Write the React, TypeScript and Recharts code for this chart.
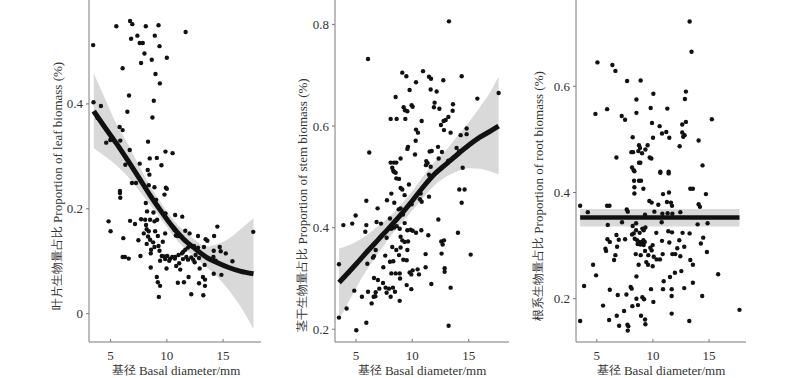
import React from 'react';
import { ComposedChart, XAxis, YAxis, Scatter, Line, Area } from 'recharts';

const FONT = "'Liberation Serif', 'Times New Roman', Times, 'DejaVu Serif', serif";

const xTicks = [5, 10, 15];
const leafYTicks = [0, 0.2, 0.4];
const stemYTicks = [0.2, 0.4, 0.6, 0.8];
const rootYTicks = [0.2, 0.4, 0.6];

const xTitle = ['基径', 'Basal diameter/mm'];
const leafTitle = ['叶片生物量占比', 'Proportion of leaf biomass (%)'];
const stemTitle = ['茎干生物量占比', 'Proportion of stem biomass (%)'];
const rootTitle = ['根系生物量占比', 'Proportion of root biomass (%)'];

const leafPoints: number[][] = [
  [3.45,0.512],[5.51,0.548],[6.73,0.558],[6.93,0.552],[8.13,0.548],[9.26,0.55],[11.67,0.537],[6.82,0.524],[7.38,0.53],[8.93,0.53],
  [7.59,0.516],[7.86,0.516],[9.35,0.51],[8.01,0.496],[10.0,0.488],[8.66,0.484],[7.71,0.478],[6.07,0.468],[8.99,0.457],[9.38,0.439],
  [6.64,0.416],[8.84,0.406],[3.48,0.403],[4.14,0.396],[6.49,0.385],[8.72,0.374],[5.8,0.356],[6.07,0.35],[8.33,0.328],[4.61,0.326],
  [4.97,0.331],[5.86,0.33],[6.7,0.312],[9.88,0.309],[10.51,0.306],[8.48,0.296],[9.11,0.297],[6.31,0.284],[7.59,0.286],[9.52,0.283],
  [8.3,0.274],[3.84,0.373],
  [8.45,0.265],[6.9,0.249],[7.26,0.249],[5.83,0.234],[5.83,0.23],[5.86,0.221],[8.39,0.245],[8.9,0.241],[9.91,0.24],[10.0,0.238],
  [9.79,0.227],[9.05,0.217],[8.13,0.211],[9.2,0.205],[8.24,0.195],[8.81,0.193],[9.88,0.191],[10.74,0.188],[11.37,0.185],[4.82,0.176],
  [6.73,0.177],[7.17,0.171],[7.71,0.18],[8.07,0.179],[8.51,0.179],[8.9,0.176],[9.14,0.179],[8.15,0.169],[8.21,0.161],[8.39,0.157],
  [8.96,0.157],[5.0,0.157],[6.13,0.144],[7.47,0.14],[7.95,0.153],[8.33,0.147],[8.51,0.141],[8.78,0.136],[9.2,0.148],[9.64,0.137],
  [9.85,0.153],[10.68,0.16],[10.8,0.149],[10.98,0.148],[11.64,0.158],[12.02,0.153],[12.77,0.148],[13.45,0.142],[13.6,0.139],[14.2,0.148],
  [14.49,0.166],[8.21,0.133],[8.6,0.122],[8.9,0.127],[9.26,0.129],[9.35,0.12],[9.55,0.11],[9.76,0.109],[10.03,0.11],[10.3,0.105],
  [10.48,0.108],[10.74,0.108],[11.04,0.112],[11.34,0.115],[11.46,0.118],[11.64,0.122],[11.88,0.126],[12.41,0.129],[12.77,0.126],[6.07,0.108],
  [6.28,0.108],[6.61,0.105],[7.65,0.11],[8.57,0.115],[9.4,0.101],[9.85,0.104],[10.21,0.101],[10.71,0.105],[10.83,0.091],[11.1,0.096],
  [11.43,0.104],[11.73,0.108],[11.88,0.103],[12.35,0.103],[12.47,0.098],[12.86,0.106],[12.92,0.086],[13.36,0.093],[14.14,0.108],[14.35,0.101],
  [14.79,0.119],[15.24,0.115],[15.83,0.1],[14.7,0.127],[14.17,0.12],[13.3,0.127],[12.56,0.112],[12.17,0.107],[8.57,0.088],[9.97,0.086],
  [11.19,0.084],[9.11,0.07],[9.2,0.06],[9.4,0.053],[9.29,0.032],[10.98,0.059],[11.52,0.06],[11.93,0.07],[12.17,0.037],[12.86,0.058],
  [13.21,0.07],[13.39,0.065],[13.39,0.053],[13.24,0.035],[14.85,0.074],[14.17,0.076],[17.68,0.156]
];

const stemPoints: number[][] = [
  [13.25,0.806],[6.07,0.732],[9.11,0.705],[9.47,0.698],[10.95,0.708],[11.48,0.697],[11.66,0.693],[12.75,0.69],[14.38,0.698],[10.33,0.686],
  [9.76,0.671],[11.63,0.672],[12.16,0.668],[8.52,0.657],[15.77,0.654],[17.66,0.665],[9.23,0.637],[9.35,0.631],[9.56,0.629],[9.94,0.641],
  [10.03,0.638],[11.98,0.646],[11.92,0.637],[12.4,0.634],[13.61,0.643],[13.58,0.63],[8.08,0.614],[8.61,0.614],[9.38,0.614],[10.83,0.61],
  [13.2,0.618],[12.96,0.612],[12.78,0.61],[12.54,0.602],[12.81,0.592],[10.33,0.593],[10.5,0.587],[13.4,0.587],[14.29,0.582],[14.82,0.595],
  [14.82,0.584],[10.3,0.571],[9.62,0.559],[9.56,0.555],[11.54,0.55],[11.72,0.551],[12.28,0.559],[12.63,0.549],[13.93,0.557],[14.14,0.55],
  [10.24,0.544],[8.96,0.536],[6.18,0.548],[8.08,0.528],[8.37,0.528],[8.58,0.528],[8.22,0.518],[11.24,0.531],[11.36,0.527],[11.21,0.523],
  [11.63,0.52],[12.34,0.536],[13.2,0.532],[14.47,0.518],[8.31,0.512],
  [8.37,0.51],[8.52,0.508],[8.58,0.497],[8.82,0.496],[11.48,0.504],[8.14,0.467],[8.96,0.478],[9.11,0.475],[9.7,0.485],[9.32,0.464],
  [8.4,0.449],[5.92,0.453],[7.75,0.454],[6.92,0.438],[8.96,0.438],[8.79,0.436],[9.17,0.426],[9.94,0.446],[10.68,0.456],[10.74,0.467],
  [10.83,0.451],[11.48,0.461],[14.17,0.475],[14.64,0.475],[14.38,0.449],[4.97,0.424],[3.88,0.405],[4.67,0.408],[5.92,0.405],[5.83,0.392],
  [6.83,0.411],[7.22,0.408],[8.02,0.418],[7.72,0.38],[8.14,0.398],[8.37,0.4],[8.61,0.403],[8.88,0.398],[9.32,0.409],[9.56,0.395],
  [9.85,0.396],[10.03,0.394],[10.33,0.39],[10.8,0.395],[11.42,0.385],[12.31,0.416],[14.05,0.39],[8.96,0.382],[9.11,0.375],[9.32,0.372],
  [9.62,0.373],[8.22,0.362],[8.58,0.356],[8.96,0.361],[9.56,0.356],[8.82,0.346],[7.6,0.345],[8.02,0.333],[8.31,0.334],[9.2,0.337],
  [9.5,0.336],[11.18,0.348],[12.6,0.349],[12.57,0.373],[12.81,0.375],[12.69,0.367],[15.18,0.347],[6.01,0.329],[6.75,0.356],[6.6,0.344],
  [6.51,0.341],[7.43,0.322],[8.14,0.31],[8.52,0.31],[8.88,0.31],[8.91,0.3],[10.03,0.316],[9.91,0.308],[9.76,0.312],[10.47,0.318],
  [10.59,0.308],[11.18,0.322],[12.87,0.32],[12.87,0.313],[3.49,0.328],[6.6,0.301],[6.95,0.297],[7.4,0.291],[7.07,0.28],[9.5,0.287],
  [9.91,0.279],[11.69,0.289],[13.4,0.282],[4.85,0.276],[5.53,0.264],[6.07,0.274],[6.75,0.273],[6.72,0.265],[6.57,0.264],[7.63,0.282],
  [7.93,0.28],[8.28,0.282],[8.46,0.274],[8.08,0.264],[8.88,0.256],[6.39,0.251],[4.17,0.241],[3.49,0.223],[5.92,0.213],[5.03,0.198],
  [13.22,0.207],[7.72,0.272]
];

const rootPoints: number[][] = [
  [13.27,0.722],[13.44,0.665],[5.06,0.645],[6.39,0.64],[6.66,0.629],[7.7,0.61],[8.91,0.611],[12.94,0.59],[10.04,0.586],[12.85,0.576],
  [8.53,0.575],[5.92,0.557],[9.8,0.559],[11.28,0.558],[4.88,0.548],[8.53,0.55],[7.22,0.544],[7.52,0.537],[15.25,0.538],[9.92,0.531],
  [10.6,0.525],[12.94,0.533],[12.61,0.528],[11.19,0.514],[10.81,0.511],[12.61,0.513],[12.82,0.508],[12.7,0.505],[8.2,0.504],[10.01,0.503],
  [11.46,0.503],[14.07,0.498],[12.38,0.487],[8.76,0.489],[8.85,0.484],[9.53,0.489],[9.33,0.481],[8.7,0.478],[8.08,0.476],[9.03,0.474],
  [8.23,0.476],[6.75,0.466],[9.71,0.466],[9.86,0.464],[8.76,0.456],[8.88,0.456],[14.42,0.451],[8.14,0.447],[8.29,0.442],[10.66,0.439],
  [11.4,0.439],
  [8.35,0.44],[10.66,0.437],[11.4,0.436],[8.32,0.422],[8.76,0.422],[8.94,0.422],[8.35,0.41],[9.15,0.407],[8.35,0.398],[10.9,0.397],
  [11.43,0.4],[13.33,0.407],[13.56,0.407],[14.72,0.397],[3.52,0.375],[5.92,0.375],[6.13,0.375],[9.68,0.384],[9.89,0.381],[10.48,0.377],
  [11.25,0.382],[11.61,0.381],[11.7,0.375],[14.19,0.373],[14.07,0.378],[7.67,0.368],[7.76,0.364],[4.2,0.363],[9.3,0.358],[10.13,0.364],
  [10.84,0.36],[11.31,0.361],[11.73,0.36],[12.44,0.363],[8.2,0.337],[8.5,0.342],[7.25,0.344],[5.98,0.339],[10.78,0.344],[13.98,0.34],
  [14.87,0.342],[8.5,0.329],[9.06,0.332],[9.33,0.334],[9.18,0.329],[8.82,0.324],[8.29,0.323],[8.14,0.321],[10.3,0.324],[11.37,0.327],
  [11.7,0.325],[12.64,0.324],[13.27,0.323],[6.75,0.32],[7.52,0.312],[5.95,0.312],[6.16,0.307],[6.96,0.311],[8.38,0.313],[8.59,0.31],
  [8.82,0.307],[8.97,0.306],[9.15,0.31],[9.27,0.307],[9.77,0.296],[9.98,0.301],[10.81,0.309],[11.46,0.306],[12.35,0.31],[14.48,0.315],
  [14.27,0.304],[5.77,0.294],[5.83,0.29],[6.81,0.298],[8.64,0.303],[8.88,0.302],[9.18,0.301],[9.89,0.291],[12.17,0.295],[12.79,0.298],
  [14.81,0.288],[6.66,0.282],[8.47,0.284],[8.91,0.282],[9.3,0.29],[9.59,0.282],[10.07,0.279],[10.33,0.274],[10.63,0.274],[10.87,0.284],
  [11.73,0.284],[11.99,0.284],[12.44,0.28],[6.54,0.273],[9.41,0.269],[9.56,0.264],[9.98,0.261],[8.73,0.264],[13.33,0.273],[13.56,0.264],
  [4.67,0.264],[4.94,0.244],[10.96,0.233],[11.52,0.241],[11.96,0.249],[12.53,0.252],[13.56,0.23],[8.53,0.242],[15.81,0.246],[3.87,0.224],
  [6.16,0.217],[6.87,0.207],[7.64,0.208],[8.02,0.222],[8.11,0.219],[8.53,0.2],[9.06,0.203],[9.83,0.218],[10.9,0.218],[11.67,0.218],
  [11.67,0.205],[12.79,0.22],[14.39,0.205],[5.56,0.187],[7.43,0.177],[8.17,0.186],[8.67,0.188],[9.21,0.199],[10.04,0.194],[6.78,0.168],
  [6.1,0.16],[6.99,0.149],[7.73,0.151],[7.81,0.148],[8.94,0.168],[9.3,0.161],[9.33,0.152],[11.67,0.172],[13.24,0.158],[3.52,0.158],
  [7.76,0.14],[17.71,0.179]
];

const leafFitX = [3.5, 4.5, 5.5, 6.5, 7.5, 8.5, 9.5, 10.5, 11.5, 12.5, 13.5, 14.5, 15.5, 16.5, 17.7];
const leafFit = [0.386, 0.355, 0.325, 0.293, 0.26, 0.226, 0.195, 0.166, 0.142, 0.124, 0.108, 0.097, 0.088, 0.081, 0.076];
const leafLo = [0.316, 0.3, 0.283, 0.262, 0.236, 0.208, 0.18, 0.151, 0.126, 0.107, 0.089, 0.07, 0.045, 0.015, -0.029];
const leafHi = [0.458, 0.41, 0.362, 0.325, 0.283, 0.244, 0.211, 0.181, 0.158, 0.141, 0.128, 0.133, 0.143, 0.16, 0.182];

const stemFitX = [3.5, 5, 6, 7, 8, 9, 10, 11, 12, 13, 14, 15, 16, 17, 17.66];
const stemFit = [0.292, 0.328, 0.353, 0.377, 0.401, 0.426, 0.453, 0.481, 0.506, 0.525, 0.544, 0.562, 0.578, 0.591, 0.6];
const stemLo = [0.218, 0.281, 0.318, 0.35, 0.381, 0.408, 0.434, 0.46, 0.484, 0.5, 0.511, 0.517, 0.516, 0.51, 0.505];
const stemHi = [0.359, 0.372, 0.386, 0.404, 0.422, 0.445, 0.472, 0.502, 0.53, 0.553, 0.58, 0.607, 0.637, 0.67, 0.698];

const rootFitX = [3.52, 17.71];
const rootFit = [0.353, 0.353];
const rootLo = [0.336, 0.336];
const rootHi = [0.369, 0.369];

const AXIS = '#7a7a7a';
const TEXT = '#333333';

type PanelProps = {
  points: number[][];
  fitX: number[];
  fit: number[];
  lo: number[];
  hi: number[];
  xDomain: [number, number];
  yDomain: [number, number];
  yTicks: number[];
  plotLeft: number;
  plotRight: number;
  lineWidth: number;
  curve: 'monotone' | 'linear';
};

const Dot = (props: any) => {
  if (props.cx == null || props.cy == null) return null;
  return <circle cx={props.cx} cy={props.cy} r={2.2} fill="#111111" />;
};

function Panel(p: PanelProps) {
  const rows = p.fitX.map((x, i) => ({ x, fit: p.fit[i], band: [p.lo[i], p.hi[i]] }));
  const pts = p.points.map(([x, y]) => ({ x, y }));
  const tickStyle = { fill: TEXT, fontSize: 13, fontFamily: FONT };
  return (
    <ComposedChart
      width={800}
      height={378}
      data={rows}
      margin={{ top: 0, right: 800 - p.plotRight, bottom: 0, left: p.plotLeft - 40 }}
      style={{ position: 'absolute', left: 0, top: 0 }}
    >
      <XAxis
        type="number"
        dataKey="x"
        domain={p.xDomain}
        allowDataOverflow
        ticks={xTicks}
        interval={0}
        height={36}
        tickSize={-3}
        tickMargin={12}
        stroke={AXIS}
        tick={tickStyle}
        tickLine={{ stroke: AXIS }}
      />
      <YAxis
        type="number"
        dataKey="y"
        domain={p.yDomain}
        allowDataOverflow
        ticks={p.yTicks}
        interval={0}
        width={40}
        tickSize={3}
        tickMargin={3}
        stroke={AXIS}
        tick={tickStyle}
        tickLine={{ stroke: AXIS }}
      />
      <Area
        dataKey="band"
        type={p.curve}
        stroke="none"
        fill="#d9d9d9"
        fillOpacity={1}
        dot={false}
        activeDot={false}
        isAnimationActive={false}
      />
      <Scatter data={pts} dataKey="y" shape={Dot} isAnimationActive={false} />
      <Line
        dataKey="fit"
        type={p.curve}
        stroke="#111111"
        strokeWidth={p.lineWidth}
        dot={false}
        activeDot={false}
        isAnimationActive={false}
      />
    </ComposedChart>
  );
}

function YTitle({ x, y, parts }: { x: number; y: number; parts: string[] }) {
  return (
    <text
      x={x}
      y={y}
      transform={`rotate(-90 ${x} ${y})`}
      textAnchor="middle"
      dominantBaseline="central"
      fill={TEXT}
      fontFamily={FONT}
      fontSize={13}
    >
      <tspan fontSize={11.5}>{parts[0]}</tspan>
      <tspan> {parts[1]}</tspan>
    </text>
  );
}

function XTitle({ x, y, parts }: { x: number; y: number; parts: string[] }) {
  return (
    <text x={x} y={y} textAnchor="middle" dominantBaseline="central" fill={TEXT} fontFamily={FONT} fontSize={13}>
      <tspan fontSize={11.5}>{parts[0]}</tspan>
      <tspan> {parts[1]}</tspan>
    </text>
  );
}

export default function App() {
  return (
    <div style={{ position: 'absolute', left: 0, top: 0, width: 800, height: 378, background: '#fff', overflow: 'hidden', fontFamily: FONT }}>
      <Panel points={leafPoints} fitX={leafFitX} fit={leafFit} lo={leafLo} hi={leafHi}
        xDomain={[3.08, 18.37]} yDomain={[-0.054, 0.598]} yTicks={leafYTicks}
        plotLeft={89} plotRight={261} lineWidth={5} curve="monotone" />
      <Panel points={stemPoints} fitX={stemFitX} fit={stemFit} lo={stemLo} hi={stemHi}
        xDomain={[3.14, 18.58]} yDomain={[0.175, 0.848]} yTicks={stemYTicks}
        plotLeft={335} plotRight={509} lineWidth={5} curve="monotone" />
      <Panel points={rootPoints} fitX={rootFitX} fit={rootFit} lo={rootLo} hi={rootHi}
        xDomain={[3.15, 18.29]} yDomain={[0.1185, 0.7625]} yTicks={rootYTicks}
        plotLeft={576} plotRight={746} lineWidth={4.5} curve="linear" />
      <svg width={800} height={378} style={{ position: 'absolute', left: 0, top: 0, pointerEvents: 'none' }}>
        <YTitle x={57} y={186} parts={leafTitle} />
        <YTitle x={302} y={205} parts={stemTitle} />
        <YTitle x={538} y={196} parts={rootTitle} />
        <XTitle x={176} y={370} parts={xTitle} />
        <XTitle x={422} y={370} parts={xTitle} />
        <XTitle x={661} y={370} parts={xTitle} />
      </svg>
    </div>
  );
}
